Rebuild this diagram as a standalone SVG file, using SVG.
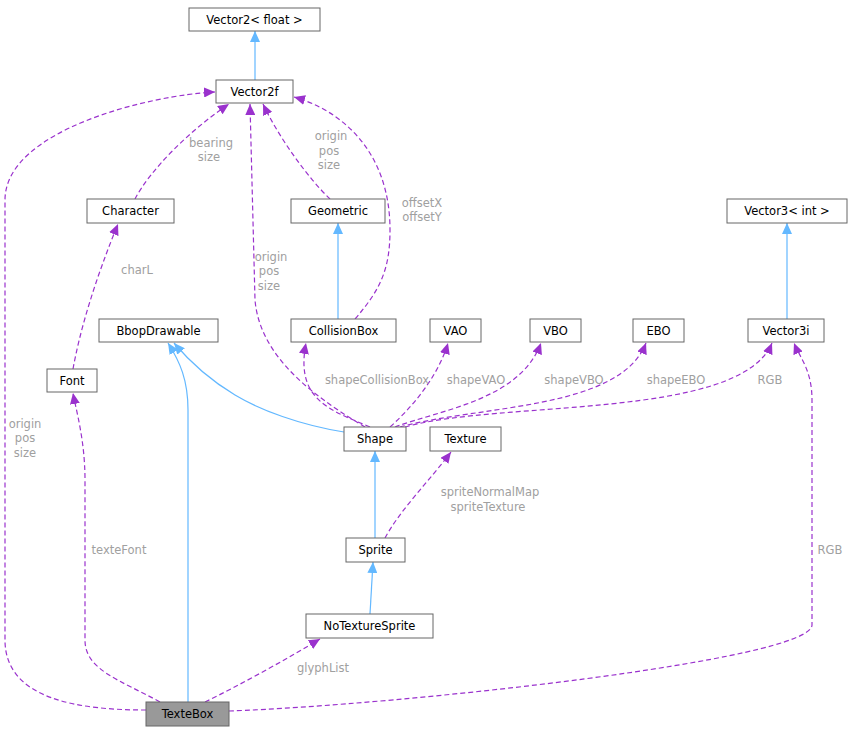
<svg xmlns="http://www.w3.org/2000/svg" width="852" height="732" viewBox="0 0 852 732">
<style>
.n rect{fill:#fff;stroke:#666;stroke-width:1}
.n text{font-family:"DejaVu Sans",sans-serif;font-size:11.5px;fill:#000;text-anchor:middle}
.b{fill:none;stroke:#63b8ff;stroke-width:1.2;marker-end:url(#mb)}
.p{fill:none;stroke:#9a32cd;stroke-width:1.2;stroke-dasharray:5,3;marker-end:url(#mp)}
.l{font-family:"DejaVu Sans",sans-serif;font-size:11.5px;fill:#a0a0a0;text-anchor:middle}
</style>
<defs>
<marker id="mb" markerWidth="12" markerHeight="10" refX="11" refY="5" orient="auto" markerUnits="userSpaceOnUse"><path d="M0,0 L11,5 L0,10 z" fill="#63b8ff"/></marker>
<marker id="mp" markerWidth="12" markerHeight="10" refX="11" refY="5" orient="auto" markerUnits="userSpaceOnUse"><path d="M0,0 L11,5 L0,10 z" fill="#9a32cd"/></marker>
</defs>
<rect width="852" height="732" fill="#fff"/>
<g id="edges">
<path class="b" d="M255,80 L255,31"/>
<path class="b" d="M338,319 L338,223"/>
<path class="b" d="M787,319 L787,223"/>
<path class="b" d="M375,427 M375,538 L375,451"/>
<path class="b" d="M370,614 L373,562"/>
<path class="b" d="M344,432 C300,425 260,410 235,395 C210,380 190,362 174,343"/>
<path class="b" d="M188,702 L188,410 C188,380 180,362 168,343"/>
<path class="p" d="M146,710 C80,710 5,700 5,640 L5,200 C5,130 150,95 215,92"/>
<path class="p" d="M160,702 C120,680 85,670 85,640 L85,480 C85,440 76,410 73,393"/>
<path class="p" d="M205,702 C240,685 285,660 320,639"/>
<path class="p" d="M229,711 C400,705 812,660 812,625 L812,400 C812,370 800,358 794,343"/>
<path class="p" d="M73,369 C80,330 95,280 118,224"/>
<path class="p" d="M135,199 C150,170 190,130 229,104"/>
<path class="p" d="M365,427 C320,400 260,360 255,300 L250,104"/>
<path class="p" d="M330,199 C310,180 280,140 263,104"/>
<path class="p" d="M355,319 C380,290 390,270 390,230 C390,150 340,110 294,97"/>
<path class="p" d="M370,427 C330,410 295,400 306,343"/>
<path class="p" d="M390,427 C420,400 440,370 448,343"/>
<path class="p" d="M395,427 C440,410 520,400 541,343"/>
<path class="p" d="M400,427 C480,405 620,410 646,343"/>
<path class="p" d="M405,427 C500,400 740,420 772,343"/>
<path class="p" d="M385,538 C400,510 430,480 451,452"/>
</g>
<g id="labels">
<text class="l" x="25" y="428">origin</text><text class="l" x="25" y="442">pos</text><text class="l" x="25" y="457">size</text>
<text class="l" x="119" y="554">texteFont</text>
<text class="l" x="323" y="672">glyphList</text>
<text class="l" x="830" y="554">RGB</text>
<text class="l" x="137" y="274">charL</text>
<text class="l" x="211" y="147">bearing</text><text class="l" x="209" y="161">size</text>
<text class="l" x="271" y="261">origin</text><text class="l" x="269" y="275">pos</text><text class="l" x="269" y="290">size</text>
<text class="l" x="331" y="140">origin</text><text class="l" x="329" y="155">pos</text><text class="l" x="329" y="169">size</text>
<text class="l" x="422" y="207">offsetX</text><text class="l" x="422" y="221">offsetY</text>
<text class="l" x="377" y="384">shapeCollisionBox</text>
<text class="l" x="476" y="384">shapeVAO</text>
<text class="l" x="574" y="384">shapeVBO</text>
<text class="l" x="676" y="384">shapeEBO</text>
<text class="l" x="770" y="384">RGB</text>
<text class="l" x="490" y="496">spriteNormalMap</text><text class="l" x="488" y="511">spriteTexture</text>
</g>
<g id="Vector2float" class="n"><rect x="189" y="8" width="131" height="23"/><text x="254.5" y="24">Vector2&lt; float &gt;</text></g>
<g id="Vector2f" class="n"><rect x="216" y="80" width="77" height="23"/><text x="254.5" y="96">Vector2f</text></g>
<g id="Character" class="n"><rect x="87" y="199" width="87" height="24"/><text x="130.5" y="215">Character</text></g>
<g id="Geometric" class="n"><rect x="291" y="199" width="94" height="24"/><text x="338" y="215">Geometric</text></g>
<g id="Vector3int" class="n"><rect x="727" y="199" width="120" height="24"/><text x="787" y="215">Vector3&lt; int &gt;</text></g>
<g id="BbopDrawable" class="n"><rect x="99" y="319" width="119" height="23"/><text x="158.5" y="335">BbopDrawable</text></g>
<g id="CollisionBox" class="n"><rect x="291" y="319" width="105" height="23"/><text x="343.5" y="335">CollisionBox</text></g>
<g id="VAO" class="n"><rect x="430" y="319" width="51" height="23"/><text x="455.5" y="335">VAO</text></g>
<g id="VBO" class="n"><rect x="530" y="319" width="51" height="23"/><text x="555.5" y="335">VBO</text></g>
<g id="EBO" class="n"><rect x="633" y="319" width="51" height="23"/><text x="658.5" y="335">EBO</text></g>
<g id="Vector3i" class="n"><rect x="748" y="319" width="76" height="23"/><text x="786" y="335">Vector3i</text></g>
<g id="Font" class="n"><rect x="47" y="369" width="50" height="23"/><text x="72" y="385">Font</text></g>
<g id="Shape" class="n"><rect x="344" y="427" width="62" height="24"/><text x="375" y="443">Shape</text></g>
<g id="Texture" class="n"><rect x="430" y="427" width="71" height="24"/><text x="465.5" y="443">Texture</text></g>
<g id="Sprite" class="n"><rect x="346" y="538" width="59" height="24"/><text x="375.5" y="554">Sprite</text></g>
<g id="NoTextureSprite" class="n"><rect x="306" y="614" width="127" height="24"/><text x="369.5" y="630">NoTextureSprite</text></g>
<g id="TexteBox" class="n"><rect x="146" y="702" width="83" height="24" style="fill:#999"/><text x="187.5" y="718">TexteBox</text></g>
</svg>
